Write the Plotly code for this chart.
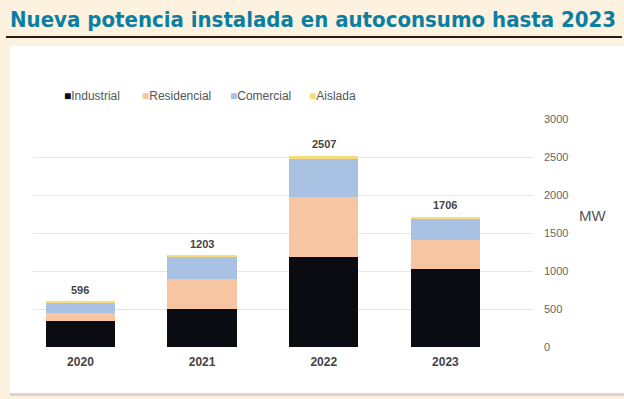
import plotly.graph_objects as go

years = ["2020", "2021", "2022", "2023"]
industrial = [340, 500, 1180, 1030]
residencial = [110, 390, 800, 375]
comercial = [140, 297, 500, 285]
aislada = [6, 16, 27, 16]
totals = [596, 1203, 2507, 1706]
y_ticks = [0, 500, 1000, 1500, 2000, 2500, 3000]

series = [
    ("Industrial", industrial, "#0b0b12"),
    ("Residencial", residencial, "#f8c5a2"),
    ("Comercial", comercial, "#a9c1e2"),
    ("Aislada", aislada, "#f7dc7c"),
]

L, R, T, B = 33, 533, 119, 347
W, H = R - L, B - T

def px(x):
    return (x - L) / W

def py(y):
    return (B - y) / H

fig = go.Figure()
for name, vals, col in series:
    fig.add_trace(go.Bar(x=years, y=vals, name=name, marker=dict(color=col, line=dict(width=0)),
                         width=0.57, hoverinfo="y+name", showlegend=False))

annotations = []
for i, t in enumerate(totals):
    annotations.append(dict(text=f"<b>{t}</b>", x=i, y=t, xref="x", yref="y",
                            yanchor="bottom", xanchor="center", yshift=4, showarrow=False,
                            font=dict(family="Liberation Sans", size=11, color="#444444")))

legend_x = [62, 140, 228, 307]
for (name, _, col), lx in zip(series, legend_x):
    annotations.append(dict(text=f"<span style='color:{col}'>■</span>{name}", xref="paper", yref="paper",
                            x=px(lx), y=py(96), xanchor="left", yanchor="middle", showarrow=False,
                            font=dict(family="Liberation Sans", size=12, color="#555555")))

annotations += [
    dict(text="<b>Nueva potencia instalada en autoconsumo hasta 2023</b>", xref="paper", yref="paper",
         x=px(8), y=py(19), xanchor="left", yanchor="middle", showarrow=False,
         font=dict(family="DejaVu Sans Condensed", size=22, color="#0a7fa3")),
    dict(text="MW", xref="paper", yref="paper", x=px(592), y=py(215),
         xanchor="center", yanchor="middle", showarrow=False,
         font=dict(family="Liberation Sans", size=15, color="#555555")),
]

fig.update_layout(
    barmode="stack",
    width=624, height=399,
    margin=dict(l=L, r=624 - R, t=T, b=399 - B, autoexpand=False),
    paper_bgcolor="#fdf2df",
    plot_bgcolor="rgba(0,0,0,0)",
    showlegend=False,
    xaxis=dict(type="category", range=[-0.39, 3.72], showgrid=False, zeroline=False, showline=False,
               tickfont=dict(family="Liberation Sans", size=12, color="#444444", weight="bold"),
               ticks="", ticklabelstandoff=6, automargin=False),
    yaxis=dict(range=[0, 3000], side="right", tickvals=y_ticks,
               showgrid=True, gridcolor="#e6e6e6", gridwidth=1, zeroline=False, showline=False,
               tickfont=dict(family="Liberation Sans", size=11, color="#666666"),
               ticks="", ticklabelstandoff=10, automargin=False),
    shapes=[
        dict(type="rect", xref="paper", yref="paper", x0=px(10), x1=px(630),
             y0=py(393), y1=py(46), fillcolor="white", line=dict(width=0), layer="below"),
        dict(type="rect", xref="paper", yref="paper", x0=px(10), x1=px(630),
             y0=py(396), y1=py(393), fillcolor="#dcd6c8", line=dict(width=0), layer="below"),
        dict(type="line", xref="paper", yref="paper", x0=px(6), x1=px(622),
             y0=py(37), y1=py(37), line=dict(color="#2a1a10", width=2)),
    ],
    annotations=annotations,
)

fig.write_html("out.html", config={"displayModeBar": False},
               post_script="document.body.style.margin='0';document.body.style.background='#fdf2df';")
